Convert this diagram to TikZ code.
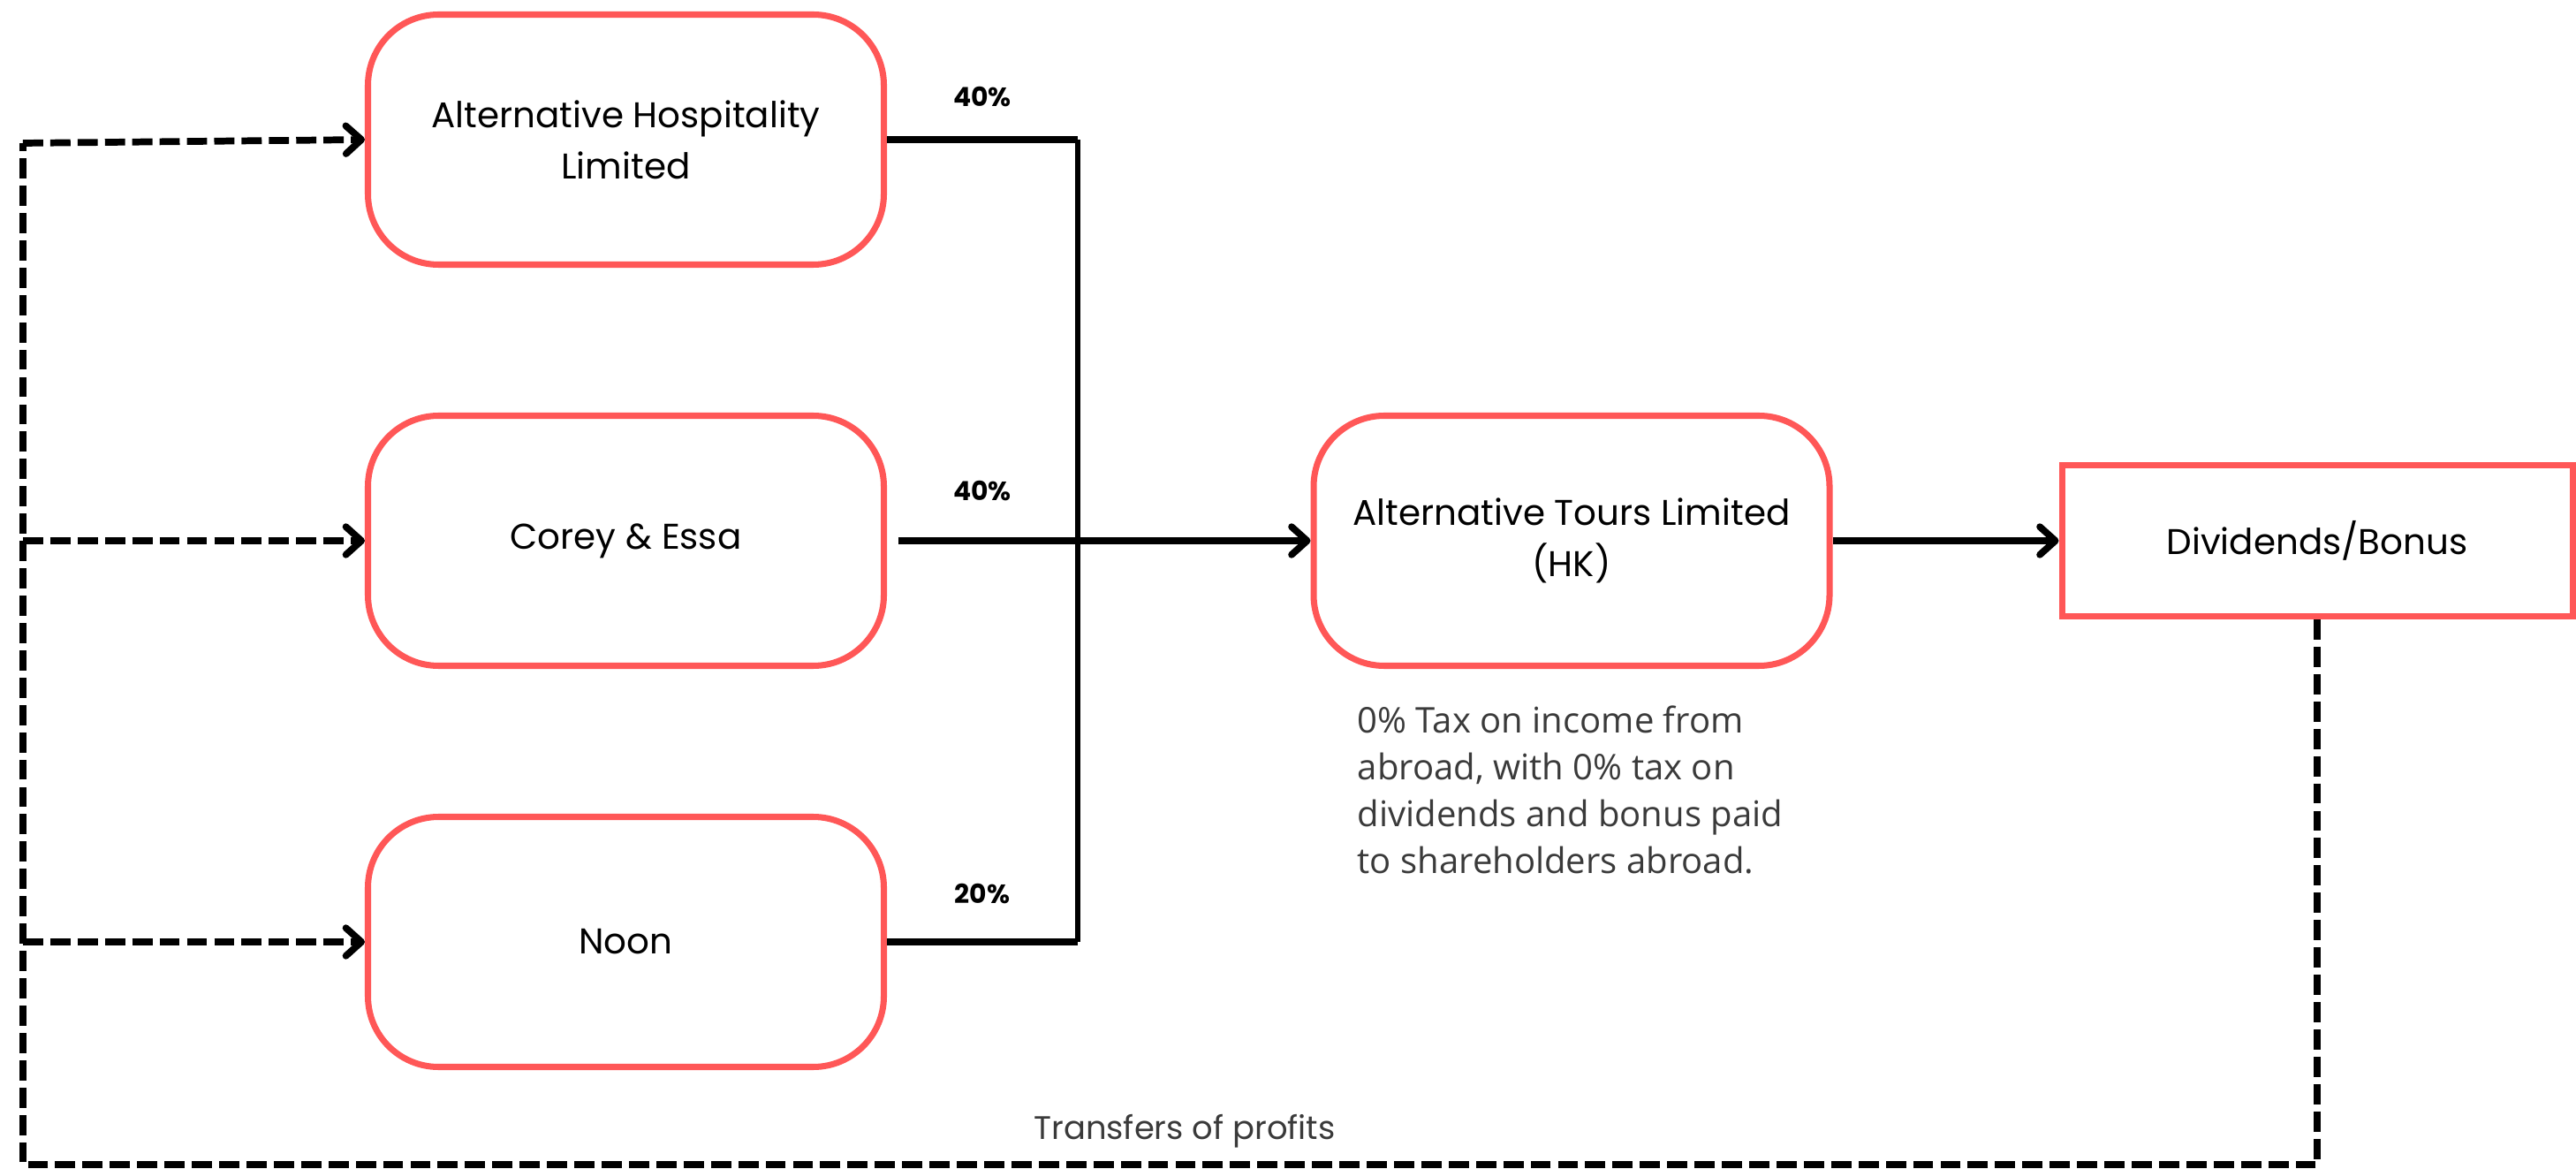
\documentclass[tikz,border=0pt]{standalone}
\usepackage{fontspec}
\usepackage{tikz}
\usetikzlibrary{arrows.meta,positioning}
\newfontfamily\labelfont{Poppins}
\newfontfamily\notefont{Open Sans}
\definecolor{boxred}{RGB}{255,87,87}
\definecolor{notegray}{RGB}{58,58,58}
\tikzset{
  entity/.style={draw=boxred, line width=2pt, rounded corners=0.8cm,
    minimum width=5.84cm, minimum height=2.83cm, align=center,
    font=\labelfont\fontsize{11.5}{16.5}\selectfont},
  payout/.style={draw=boxred, line width=2pt, minimum width=5.78cm,
    minimum height=1.71cm, font=\labelfont\fontsize{11.5}{16.5}\selectfont},
  share/.style={line width=2.2pt},
  shareto/.style={share, -{Straight Barb[length=5pt,width=9pt,round]}},
  profit/.style={line width=2.2pt, dash pattern=on 6.5pt off 2.3pt},
  profitto/.style={profit, -{Straight Barb[length=5pt,width=9pt,round]}},
  pct/.style={font=\labelfont\bfseries\fontsize{8.5}{10}\selectfont},
}
\begin{document}
\begin{tikzpicture}
    \useasboundingbox (0,0) rectangle (29.16,-13.23);
    % shareholders
    \node[entity] (ahl) at (7.085,-1.58) {Alternative Hospitality\\Limited};
    \node[entity] (ce) at (7.085,-6.12) {Corey \& Essa};
    \node[entity] (noon) at (7.085,-10.66) {Noon};
    % hong kong company and payout
    \node[entity] (atl) at (17.79,-6.12) {Alternative Tours Limited\\(HK)};
    \node[payout] (div) at (26.23,-6.12) {Dividends/Bonus};
    \node[notegray, anchor=north west, align=left, inner sep=0pt,
      font=\notefont\fontsize{11.4}{15.1}\selectfont] (tax) at (15.36,-7.98)
      {0\% Tax on income from\\abroad, with 0\% tax on\\dividends and bonus paid\\to shareholders abroad.};
    % share lines
    \coordinate (jt) at (12.20,-1.58);
    \coordinate (jb) at (12.20,-10.66);
    \draw[share] (ahl.east) -- (jt);
    \draw[share] (noon.east) -- (jb);
    \draw[line width=1.6pt] (jt) -- (jb);
    \draw[shareto] ([xshift=0.13cm]ce.east) -- (atl.west);
    \draw[shareto] (atl.east) -- (div.west);
    \node[pct] (pa) at (11.12,-1.10) {40\%};
    \node[pct] (pb) at (11.12,-5.56) {40\%};
    \node[pct] (pc) at (11.12,-10.12) {20\%};
    % transfers of profits
    \coordinate (tl) at (0.26,-1.62);
    \coordinate (bl) at (0.26,-13.18);
    \draw[profit] (div.south) -- (div.south |- bl) -- (bl) -- (tl);
    \draw[profitto] (tl) -- (ahl.west);
    \draw[profitto] (ce.west -| tl) -- (ce.west);
    \draw[profitto] (noon.west -| tl) -- (noon.west);
    \node[notegray, font=\labelfont\fontsize{10.5}{12}\selectfont] (tp) at (13.41,-12.80) {Transfers of profits};
\end{tikzpicture}
\end{document}
